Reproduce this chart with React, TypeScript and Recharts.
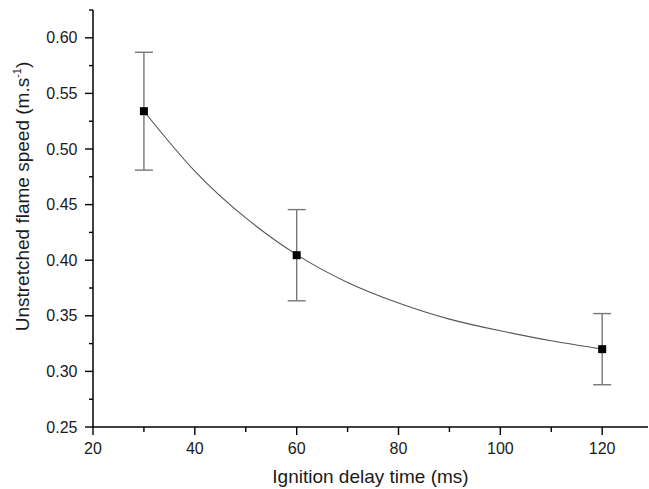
import { ComposedChart, Line, Scatter, ErrorBar, XAxis, YAxis } from "recharts";

const delayTimes = [30, 60, 120];
const flameSpeeds = [0.534, 0.4045, 0.32];
const speedErrors = [0.053, 0.041, 0.032];

// fitted curve, every 10 ms
const fitTimes = [30, 40, 50, 60, 70, 80, 90, 100, 110, 120];
const fitSpeeds = [0.534, 0.48, 0.438, 0.405, 0.38, 0.3615, 0.347, 0.3365, 0.3275, 0.32];

const xTicks = [20, 30, 40, 50, 60, 70, 80, 90, 100, 110, 120];
const yTicks = [
  0.25, 0.275, 0.3, 0.325, 0.35, 0.375, 0.4, 0.425, 0.45, 0.475, 0.5, 0.525, 0.55, 0.575, 0.6, 0.625,
];

const points = delayTimes.map((t, i) => ({ time: t, speed: flameSpeeds[i], err: speedErrors[i] }));
const fit = fitTimes.map((t, i) => ({ time: t, speed: fitSpeeds[i] }));

const FONT = '"Liberation Sans", Arial, sans-serif';
const TEXT = "#1a1a1a";
const TICK = 8;

const XTick = (props: any) => {
  const { x, y, payload } = props;
  const axisY = y - TICK;
  const major = payload.value % 20 === 0;
  return (
    <g>
      <line x1={x} x2={x} y1={axisY} y2={axisY + (major ? 8 : 5)} stroke="#000" strokeWidth={1.4} />
      {major && (
        <text x={x} y={axisY + 27} textAnchor="middle" fontSize={16} fontFamily={FONT} fill={TEXT}>
          {payload.value}
        </text>
      )}
    </g>
  );
};

const YTick = (props: any) => {
  const { x, y, payload } = props;
  const axisX = x + TICK;
  const major = Math.round(payload.value * 1000) % 50 === 0;
  return (
    <g>
      <line x1={axisX - (major ? 8 : 4)} x2={axisX} y1={y} y2={y} stroke="#000" strokeWidth={1.4} />
      {major && (
        <text x={axisX - 15.5} y={y} dy="0.35em" textAnchor="end" fontSize={16} fontFamily={FONT} fill={TEXT}>
          {payload.value.toFixed(2)}
        </text>
      )}
    </g>
  );
};

const YLabel = (props: any) => {
  const { viewBox } = props;
  const cx = viewBox.x + 29;
  const cy = viewBox.y + viewBox.height / 2 - 22;
  return (
    <text
      x={cx}
      y={cy}
      transform={`rotate(-90 ${cx} ${cy})`}
      textAnchor="middle"
      fontSize={19}
      fontFamily={FONT}
      fill={TEXT}
    >
      Unstretched flame speed (m.s
      <tspan dy={-8} fontSize={11}>-1</tspan>
      <tspan dy={8}>)</tspan>
    </text>
  );
};

const SquareDot = (props: any) => {
  const { cx, cy } = props;
  return <rect x={cx - 4} y={cy - 4} width={8} height={8} fill="#000" />;
};

export default function App() {
  return (
    <div style={{ position: "absolute", left: 0, top: 0, background: "#fff" }}>
      <ComposedChart width={649} height={489} margin={{ top: 10, right: 1, bottom: 0, left: 0 }}>
        <XAxis
          dataKey="time"
          type="number"
          domain={[20, 129]}
          allowDataOverflow
          ticks={xTicks}
          interval={0}
          height={62}
          tickSize={TICK}
          tickMargin={0}
          tickLine={false}
          tick={<XTick />}
          axisLine={{ stroke: "#000", strokeWidth: 1.5 }}
          label={{
            value: "Ignition delay time (ms)",
            position: "insideBottom",
            offset: 6,
            fill: TEXT,
            fontSize: 19,
            fontFamily: FONT,
          }}
        />
        <YAxis
          dataKey="speed"
          type="number"
          domain={[0.25, 0.625]}
          allowDataOverflow
          ticks={yTicks}
          interval={0}
          width={93}
          tickSize={TICK}
          tickMargin={0}
          tickLine={false}
          tick={<YTick />}
          axisLine={{ stroke: "#000", strokeWidth: 1.5 }}
          label={<YLabel />}
        />
        <Line
          data={fit}
          dataKey="speed"
          type="natural"
          stroke="#555"
          strokeWidth={1.1}
          dot={false}
          activeDot={false}
          isAnimationActive={false}
        />
        <Scatter data={points} dataKey="speed" shape={<SquareDot />} isAnimationActive={false}>
          <ErrorBar dataKey="err" direction="y" width={9} stroke="#777" strokeWidth={1.4} />
        </Scatter>
      </ComposedChart>
    </div>
  );
}
